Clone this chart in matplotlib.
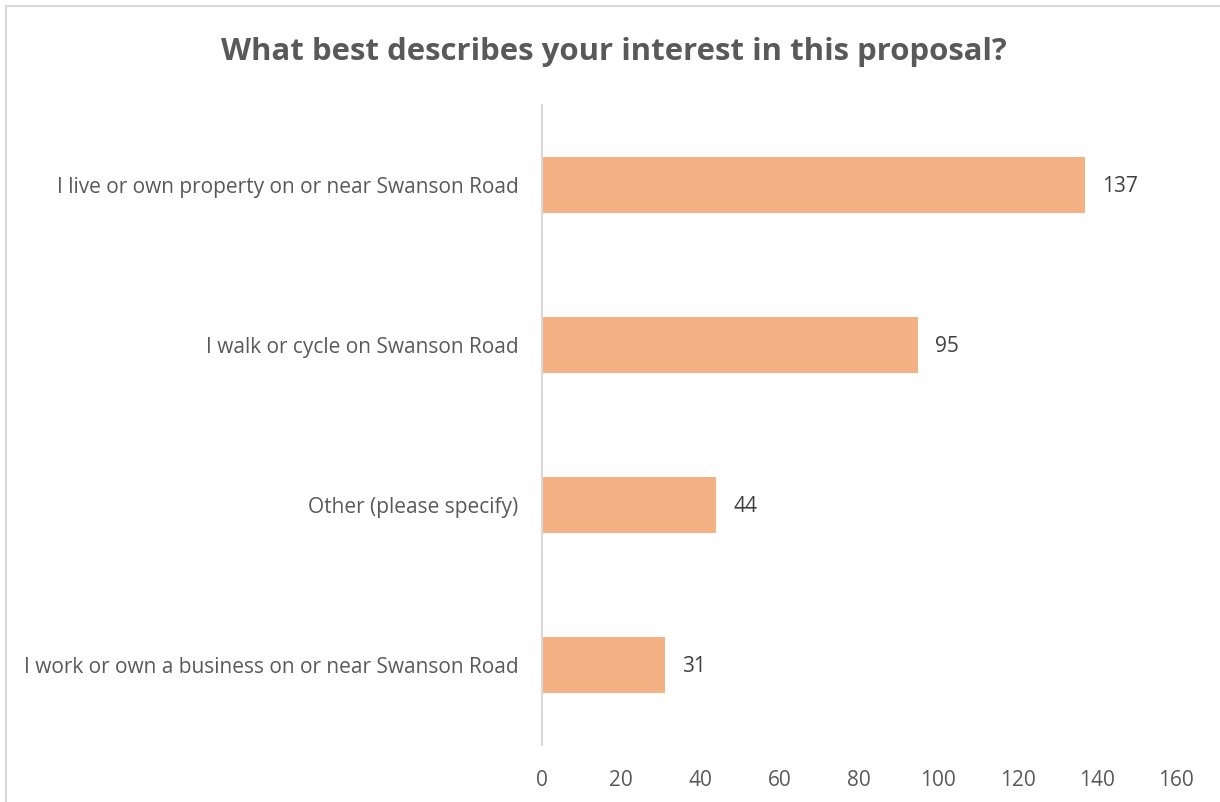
import matplotlib.pyplot as plt
from matplotlib.lines import Line2D

# survey answers, top to bottom
categories = [
    "I live or own property on or near Swanson Road",
    "I walk or cycle on Swanson Road",
    "Other (please specify)",
    "I work or own a business on or near Swanson Road",
]
counts = [137, 95, 44, 31]
x_ticks = [0, 20, 40, 60, 80, 100, 120, 140, 160]

plt.rcParams['font.family'] = ['Open Sans', 'DejaVu Sans']

fig = plt.figure(figsize=(12.2, 8.02), dpi=100)
ax = fig.add_axes([0.4443, 0.0711, 0.5196, 0.798])

ypos = list(range(len(categories)))
ax.barh(ypos, counts, height=0.355, color='#F4B183')

for y, v in zip(ypos, counts):
    ax.text(v + 4.3, y + 0.012, str(v), va='center', ha='left', fontsize=15, color='#404040')

ax.set_ylim(len(categories) - 0.5, -0.5)
ax.set_xlim(0, 160)
ax.set_xticks(x_ticks)
ax.set_yticks(ypos)
ax.set_yticklabels(categories)
ax.tick_params(axis='both', length=0, labelsize=15, colors='#595959')
ax.tick_params(axis='x', pad=18)
ax.tick_params(axis='y', pad=17)

for side in ['top', 'right', 'bottom']:
    ax.spines[side].set_visible(False)
ax.spines['left'].set_color('#D9D9D9')
ax.spines['left'].set_linewidth(1.5)

fig.text(0.503, 0.935, "What best describes your interest in this proposal?",
         ha='center', va='center', fontsize=22.4, fontweight='bold', color='#595959')

# chart frame (top and left edges visible in the crop)
fig.add_artist(Line2D([0.005, 1.0], [0.9925, 0.9925], color='#D9D9D9', lw=1.5,
                      transform=fig.transFigure))
fig.add_artist(Line2D([0.005, 0.005], [0.0, 0.9925], color='#D9D9D9', lw=1.5,
                      transform=fig.transFigure))

fig.savefig('out.png', dpi=100)
